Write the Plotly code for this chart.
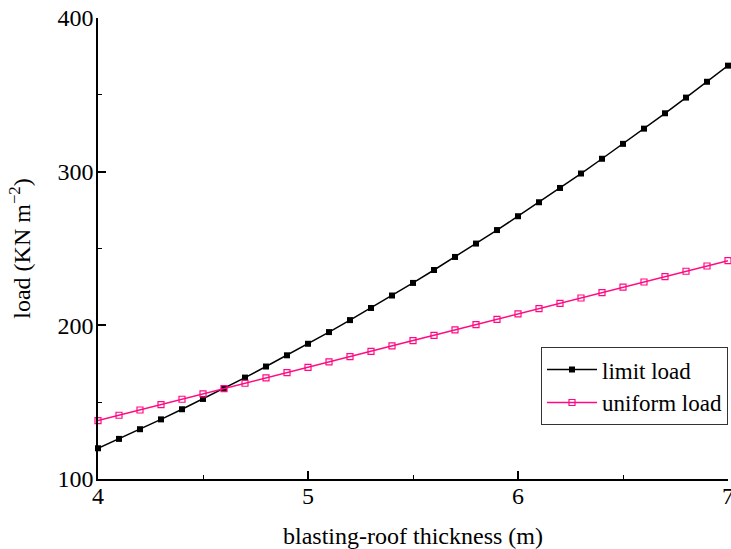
import plotly.graph_objects as go

thickness = [4.0, 4.1, 4.2, 4.3, 4.4, 4.5, 4.6, 4.7, 4.8, 4.9,
             5.0, 5.1, 5.2, 5.3, 5.4, 5.5, 5.6, 5.7, 5.8, 5.9,
             6.0, 6.1, 6.2, 6.3, 6.4, 6.5, 6.6, 6.7, 6.8, 6.9, 7.0]
limit_load = [120.0, 126.1, 132.4, 138.8, 145.4, 152.1, 159.0, 166.0, 173.2, 180.5,
              188.0, 195.6, 203.4, 211.3, 219.4, 227.6, 236.0, 244.5, 253.2, 262.0,
              271.0, 280.1, 289.4, 298.8, 308.4, 318.1, 328.0, 338.0, 348.2, 358.5, 369.0]
uniform_load = [138.0, 141.5, 144.9, 148.4, 151.9, 155.4, 158.8, 162.3, 165.8, 169.2,
                172.7, 176.2, 179.6, 183.1, 186.6, 190.1, 193.5, 197.0, 200.5, 203.9,
                207.4, 210.9, 214.3, 217.8, 221.3, 224.8, 228.2, 231.7, 235.2, 238.6, 242.1]
x_ticks = [4, 5, 6, 7]
y_ticks = [100, 200, 300, 400]

FONT = "Liberation Serif, Times New Roman, serif"
PINK = "#FF0A84"

fig = go.Figure()
fig.add_trace(go.Scatter(
    x=thickness, y=limit_load, name="limit load", mode="lines+markers",
    line=dict(color="black", width=1.5),
    marker=dict(symbol="square", size=6, color="black"),
    cliponaxis=False,
))
fig.add_trace(go.Scatter(
    x=thickness, y=uniform_load, name="uniform load", mode="lines+markers",
    line=dict(color=PINK, width=1.5),
    marker=dict(symbol="square-open", size=6, color=PINK, line=dict(width=1.2)),
    cliponaxis=False,
))

axis_common = dict(
    showgrid=False, zeroline=False, showline=True, linecolor="black", linewidth=1.5,
    ticks="inside", ticklen=8, tickwidth=1.5, tickcolor="black",
    tickfont=dict(family=FONT, size=24, color="black"),
    automargin=False, ticklabeloverflow="allow",
)

fig.update_xaxes(
    range=[4, 7], tickvals=x_ticks, ticktext=[str(v) for v in x_ticks],
    title=dict(text="blasting-roof thickness (m)", font=dict(family=FONT, size=24, color="black"), standoff=23),
    ticklabelstandoff=-6,
    minor=dict(ticks="inside", ticklen=4, tickwidth=1.2, tickcolor="black", tickvals=[4.5, 5.5, 6.5]),
    **axis_common,
)
fig.update_yaxes(
    range=[100, 400], tickvals=y_ticks, ticktext=[str(v) for v in y_ticks],
    title=dict(text="load (KN m<sup>−2</sup>)", font=dict(family=FONT, size=24, color="black"), standoff=20),
    ticklabelstandoff=-2,
    minor=dict(ticks="inside", ticklen=4, tickwidth=1.2, tickcolor="black", tickvals=[150, 250, 350]),
    **axis_common,
)

fig.update_layout(
    width=731, height=549,
    margin=dict(l=98, r=3, t=18, b=70),
    paper_bgcolor="white", plot_bgcolor="white",
    font=dict(family=FONT, size=24, color="black"),
    showlegend=True,
    legend=dict(
        x=1.0, y=0.286, xanchor="right", yanchor="top",
        bordercolor="#333333", borderwidth=1, bgcolor="white",
        font=dict(family=FONT, size=23, color="black"),
        itemwidth=50, tracegroupgap=0,
    ),
)

# remove the default 8px page margin so the figure sits at the window origin
fig.write_html(
    "out.html",
    config={"displayModeBar": False},
    post_script="document.body.style.margin='0';document.body.style.overflow='hidden';",
)
